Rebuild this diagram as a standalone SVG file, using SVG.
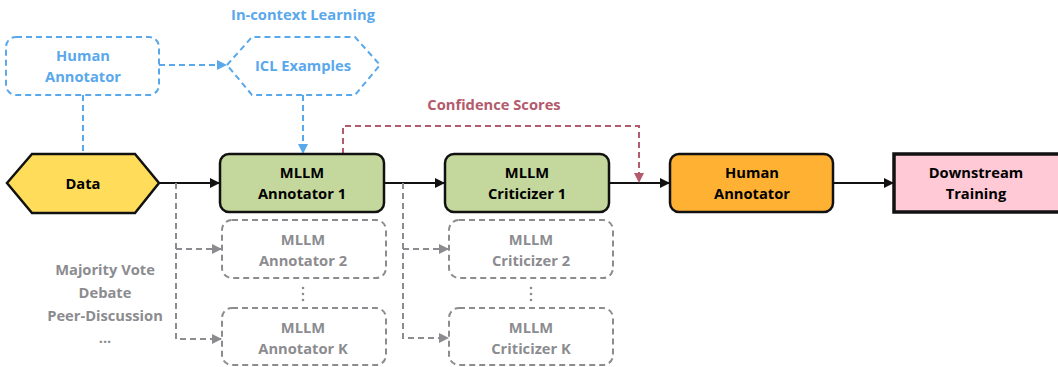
<svg xmlns="http://www.w3.org/2000/svg" width="1058" height="367" viewBox="0 0 1058 367">
<defs>
<style>
text{font-family:"Open Sans","Liberation Sans",sans-serif;font-weight:700;font-size:14.7px;text-anchor:middle;dominant-baseline:central}
.blue{fill:none;stroke:#5AA8EC;stroke-width:2;stroke-dasharray:6 4}
.bt{fill:#5AA8EC}
.gray{fill:none;stroke:#8C8C90;stroke-width:2;stroke-dasharray:6 4}
.gt{fill:#8C8C90}
.solid{fill:none;stroke:#111;stroke-width:2}
.red{fill:none;stroke:#B35A6C;stroke-width:2;stroke-dasharray:6 4}
.rt{fill:#B35A6C}
.node{stroke:#111;stroke-width:2.5}
</style>
<marker id="ab" viewBox="0 0 10 10" refX="9" refY="5" markerWidth="5" markerHeight="5" orient="auto"><path d="M0,0L10,5L0,10z" fill="#5AA8EC"/></marker>
<marker id="ak" viewBox="0 0 10 10" refX="9" refY="5" markerWidth="5" markerHeight="5" orient="auto"><path d="M0,0L10,5L0,10z" fill="#111"/></marker>
<marker id="ag" viewBox="0 0 10 10" refX="9" refY="5" markerWidth="5" markerHeight="5" orient="auto"><path d="M0,0L10,5L0,10z" fill="#8C8C90"/></marker>
<marker id="ar" viewBox="0 0 10 10" refX="9" refY="5" markerWidth="5" markerHeight="5" orient="auto"><path d="M0,0L10,5L0,10z" fill="#B35A6C"/></marker>
</defs>

<g id="connectors">
<path class="blue" d="M159,65H226" marker-end="url(#ab)"/>
<path class="blue" d="M83,95V154"/>
<path class="blue" d="M303,95V153" marker-end="url(#ab)"/>
<path class="solid" d="M159,183H219" marker-end="url(#ak)"/>
<path class="solid" d="M384,183H444" marker-end="url(#ak)"/>
<path class="solid" d="M609,183H669" marker-end="url(#ak)"/>
<path class="solid" d="M833,183H893" marker-end="url(#ak)"/>
<path class="gray" d="M176,183V339H221" marker-end="url(#ag)"/>
<path class="gray" d="M176,249H221" marker-end="url(#ag)"/>
<path class="gray" d="M403,183V338H448" marker-end="url(#ag)"/>
<path class="gray" d="M403,249H448" marker-end="url(#ag)"/>
<path class="red" d="M343,154V126H639V182" marker-end="url(#ar)"/>
<text x="303" y="14" class="bt">In-context Learning</text>
<text x="494" y="104" class="rt">Confidence Scores</text>
<text x="105" y="269" class="gt">Majority Vote</text>
<text x="105" y="292" class="gt">Debate</text>
<text x="105" y="315" class="gt">Peer-Discussion</text>
<text x="105" y="337" class="gt">...</text>
<g fill="#8C8C90"><circle cx="303" cy="288" r="1.3"/><circle cx="303" cy="294" r="1.3"/><circle cx="303" cy="300" r="1.3"/><circle cx="531" cy="288" r="1.3"/><circle cx="531" cy="294" r="1.3"/><circle cx="531" cy="300" r="1.3"/></g>
</g>

<g id="human-annotator-icl">
<rect class="blue" x="6" y="37" width="153" height="58" rx="10"/>
<text x="83" y="55" class="bt">Human</text>
<text x="83" y="76" class="bt">Annotator</text>
</g>
<g id="icl-examples">
<path class="blue" d="M227,65L252,37H355L380,65L355,95H252Z"/>
<text x="303" y="65" class="bt">ICL Examples</text>
</g>
<g id="data">
<path class="node" fill="#FFDD5A" d="M7,183L32,154H135L159,183L135,213H32Z"/>
<text x="83" y="183">Data</text>
</g>
<g id="annotator1">
<rect class="node" fill="#C4D79C" x="220" y="154" width="164" height="58" rx="9"/>
<text x="302" y="172">MLLM</text>
<text x="302" y="193">Annotator 1</text>
</g>
<g id="annotator2">
<rect class="gray" x="222" y="220" width="164" height="58" rx="10"/>
<text x="303" y="239" class="gt">MLLM</text>
<text x="303" y="260" class="gt">Annotator 2</text>
</g>
<g id="annotatorK">
<rect class="gray" x="222" y="308" width="164" height="57" rx="10"/>
<text x="303" y="327" class="gt">MLLM</text>
<text x="303" y="348" class="gt">Annotator K</text>
</g>
<g id="criticizer1">
<rect class="node" fill="#C4D79C" x="445" y="154" width="164" height="58" rx="9"/>
<text x="527" y="172">MLLM</text>
<text x="527" y="193">Criticizer 1</text>
</g>
<g id="criticizer2">
<rect class="gray" x="449" y="220" width="164" height="58" rx="10"/>
<text x="531" y="239" class="gt">MLLM</text>
<text x="531" y="260" class="gt">Criticizer 2</text>
</g>
<g id="criticizerK">
<rect class="gray" x="449" y="308" width="164" height="57" rx="10"/>
<text x="531" y="327" class="gt">MLLM</text>
<text x="531" y="348" class="gt">Criticizer K</text>
</g>
<g id="human-annotator">
<rect class="node" fill="#FFB133" x="670" y="154" width="163" height="58" rx="9"/>
<text x="752" y="172">Human</text>
<text x="752" y="193">Annotator</text>
</g>
<g id="downstream">
<rect fill="#FFC9D5" stroke="#111" stroke-width="3.5" x="894" y="154" width="166" height="58"/>
<text x="976" y="172">Downstream</text>
<text x="976" y="193">Training</text>
</g>
</svg>
